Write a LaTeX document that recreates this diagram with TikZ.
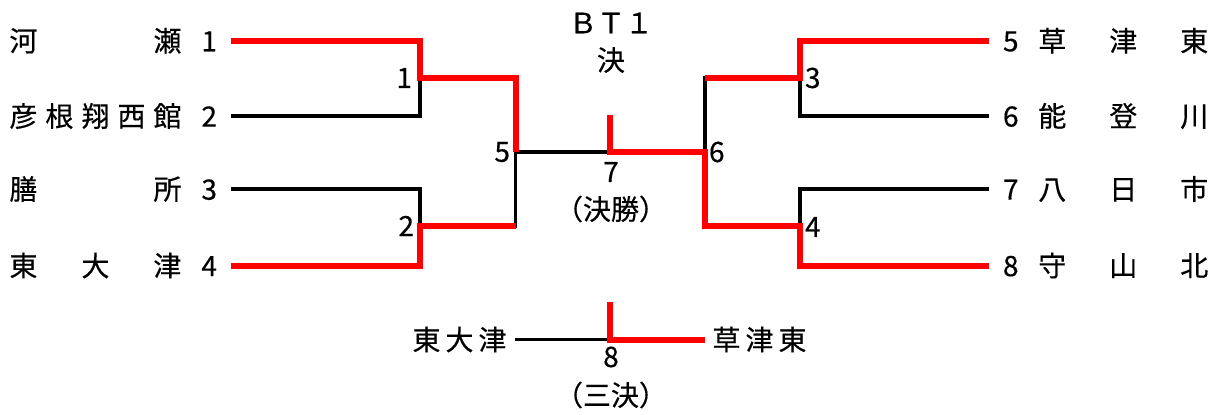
\documentclass[tikz,border=0pt]{standalone}
\usepackage{fontspec}
\newfontfamily\jp{Noto Sans CJK JP}[FakeBold=0.4]
\newcommand\slotA[1]{\makebox[36pt]{#1}}
\newcommand\slotR[1]{\makebox[35.5pt]{#1}}
\newcommand\slotB[1]{\makebox[33pt]{#1}}
\newcommand\gap[1]{\makebox[#1]{}}
\definecolor{winred}{RGB}{255,0,0}
\begin{document}
\begin{tikzpicture}[x=1pt,y=-1pt,
  lose/.style={line width=3.2pt, black},
  win/.style={line width=6pt, winred},
  lbl/.style={font=\jp\fontsize{28}{30}\selectfont, inner sep=0pt, outer sep=0pt}]
\useasboundingbox (0,0) rectangle (1216,415);
% team nodes, left
\node[lbl, anchor=east] (t1) at (231,40.7) {\slotA{河}\slotA{}\slotA{}\slotA{}\slotA{瀬}\gap{16pt}1\gap{14pt}};
\node[lbl, anchor=east] (t2) at (231,116) {\slotA{彦}\slotA{根}\slotA{翔}\slotA{西}\slotA{館}\gap{16pt}2\gap{14pt}};
\node[lbl, anchor=east] (t3) at (231,189) {\slotA{膳}\slotA{}\slotA{}\slotA{}\slotA{所}\gap{16pt}3\gap{14pt}};
\node[lbl, anchor=east] (t4) at (231,265.5) {\slotA{東}\slotA{}\slotA{大}\slotA{}\slotA{津}\gap{16pt}4\gap{14pt}};
% team nodes, right
\node[lbl, anchor=west] (t5) at (989,40.7) {\gap{14pt}5\gap{16pt}\slotR{草}\slotR{}\slotR{津}\slotR{}\slotR{東}};
\node[lbl, anchor=west] (t6) at (989,116) {\gap{14pt}6\gap{16pt}\slotR{能}\slotR{}\slotR{登}\slotR{}\slotR{川}};
\node[lbl, anchor=west] (t7) at (989,189) {\gap{14pt}7\gap{16pt}\slotR{八}\slotR{}\slotR{日}\slotR{}\slotR{市}};
\node[lbl, anchor=west] (t8) at (989,265.5) {\gap{14pt}8\gap{16pt}\slotR{守}\slotR{}\slotR{山}\slotR{}\slotR{北}};
% match points
\coordinate (m1) at (420,78);
\coordinate (m2) at (420,226);
\coordinate (m5) at (515.5,152);
\coordinate (m7) at (610,152);
\coordinate (m7top) at (610,115);
\coordinate (m6) at (705,152);
\coordinate (m3) at (800,78);
\coordinate (m4) at (800,226);
\coordinate (m8) at (610,339.5);
\coordinate (m8top) at (610,302);
% match labels
\node[lbl, anchor=east] (n1) at (412,78) {1};
\node[lbl, anchor=east] (n2) at (414,226) {2};
\node[lbl, anchor=east] (n5) at (510,152) {5};
\node[lbl, anchor=west] (n6) at (709,152) {6};
\node[lbl, anchor=west] (n3) at (805,78) {3};
\node[lbl, anchor=west] (n4) at (805,227) {4};
\node[lbl] (n7) at (611,172) {7};
\node[lbl] (fin) at (611,209) {（決勝）};
\node[lbl] (bt) at (611,23) {ＢＴ１};
\node[lbl] (ke) at (611,60) {決};
\node[lbl] (n8) at (611,357) {8};
\node[lbl] (thr) at (611,395) {（三決）};
% third-place teams
\node[lbl, anchor=east] (b1) at (515,339.5) {\slotB{東}\slotB{大}\slotB{津}\gap{6pt}};
\node[lbl, anchor=west] (b2) at (705,339.5) {\gap{5pt}\slotB{草}\slotB{津}\slotB{東}};
% losing lines
\draw[lose] (t2.east) -| (m1);
\draw[lose] (t3.east) -| (m2);
\draw[lose] (m2) -| (m5);
\draw[lose] (m5) -- (m7);
\draw[lose] (t6.west) -| (m3);
\draw[lose] (m3) -| (m6);
\draw[lose] (t7.west) -| (m4);
\draw[lose] (b1.east) -- (m8);
% winning lines
\draw[win] (t1.east) -| (m1) -| (m5);
\draw[win] (t4.east) -| (m2) -- (m2 -| m5);
\draw[win] (t5.west) -| (m3) -- (m3 -| m6);
\draw[win] (t8.west) -| (m4) -| (m6) -- (m7) -- (m7top);
\draw[win] (m8top) -- (m8) -- (b2.west);
\end{tikzpicture}
\end{document}
